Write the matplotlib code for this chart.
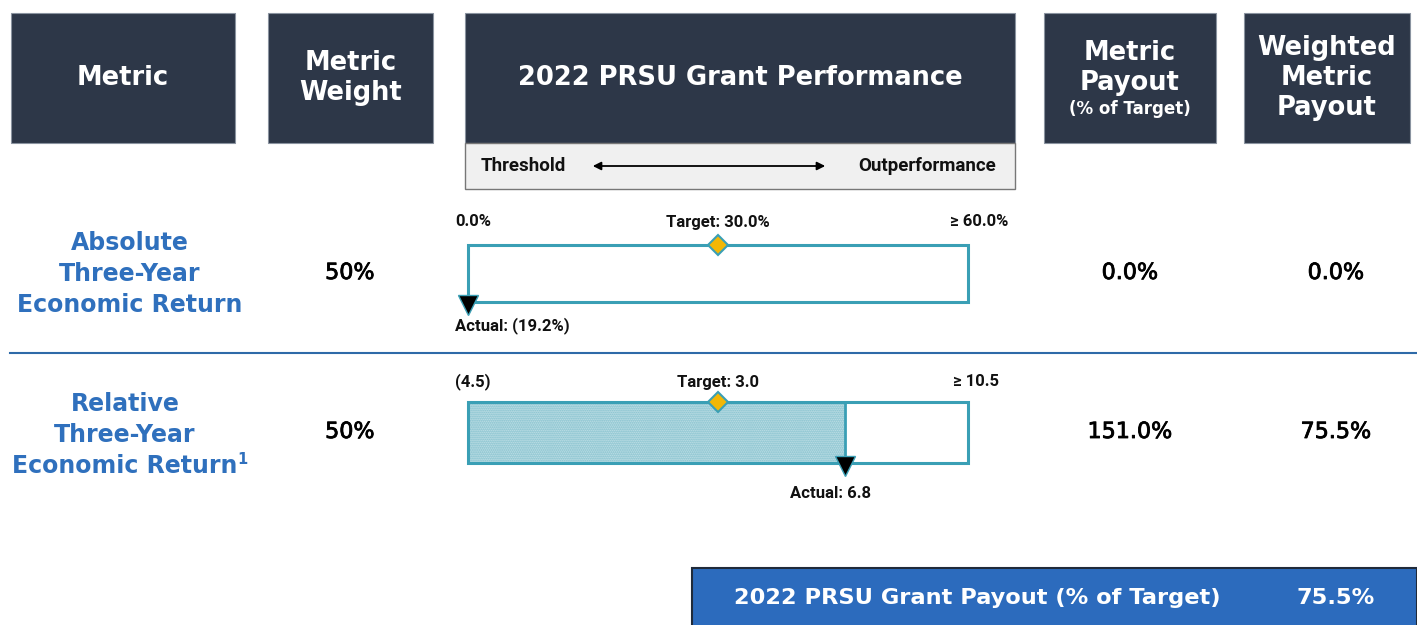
import matplotlib.pyplot as plt
import matplotlib.patheffects as pe
from matplotlib.patches import Rectangle
from matplotlib.transforms import blended_transform_factory, offset_copy

# data
headers = ["Metric", "Metric\nWeight", "2022 PRSU Grant Performance", "Metric\nPayout", "Weighted\nMetric\nPayout"]
metrics = ["Absolute\nThree-Year\nEconomic Return", "Relative\nThree-Year\nEconomic Return"]
weights = ["50%", "50%"]
threshold = [0.0, -4.5]
target = [30.0, 3.0]
outperf = [60.0, 10.5]
actual = [-19.2, 6.8]
low_labels = ["0.0%", "(4.5)"]
target_labels = ["Target: 30.0%", "Target: 3.0"]
high_labels = ["\u2265 60.0%", "\u2265 10.5"]
actual_labels = ["Actual: (19.2%)", "Actual: 6.8"]
payout = ["0.0%", "151.0%"]
weighted = ["0.0%", "75.5%"]
total_label = "2022 PRSU Grant Payout (% of Target)"
total_value = "75.5%"

NAVY = "#2d3748"
BLUE = "#2f70bd"
TEAL = "#3a9fb5"
GOLD = "#f2b705"
NARROW = ["Roboto", "DejaVu Sans"]

W, H = 1417, 625
fig = plt.figure(figsize=(W / 100, H / 100), dpi=100)
ax = fig.add_axes([0, 0, 1, 1])
ax.set_xlim(0, W)
ax.set_ylim(H, 0)
ax.axis("off")

# header boxes
cols = [(11, 235), (268, 433), (465, 1015), (1044, 1216), (1244, 1410)]
for (x0, x1), h in zip(cols, headers):
    ax.add_patch(Rectangle((x0, 13), x1 - x0, 130, facecolor=NAVY, edgecolor="#8a93a0", lw=0.8))
for i in [0, 1, 2, 4]:
    x0, x1 = cols[i]
    ax.text((x0 + x1) / 2, 78, headers[i], ha="center", va="center", color="white",
            fontsize=18.5, fontweight="bold", linespacing=1.2)
x0, x1 = cols[3]
ax.text((x0 + x1) / 2, 68, headers[3], ha="center", va="center", color="white",
        fontsize=18.5, fontweight="bold", linespacing=1.2)
ax.text((x0 + x1) / 2, 109, "(% of Target)", ha="center", va="center", color="white",
        fontsize=12, fontweight="bold")

# threshold / outperformance strip
ax.add_patch(Rectangle((465, 143), 550, 46, facecolor="#f0f0f0", edgecolor="#777777", lw=1))
ax.text(481, 166, "Threshold", ha="left", va="center", fontsize=13.5, family=NARROW,
        fontweight="bold", color="#111111")
ax.text(996, 166, "Outperformance", ha="right", va="center", fontsize=13.5, family=NARROW,
        fontweight="bold", color="#111111")
ax.annotate("", xy=(590, 166), xytext=(828, 166),
            arrowprops=dict(arrowstyle="<|-|>", color="black", lw=1.3, mutation_scale=12))

# divider
ax.plot([10, 1417], [353, 353], color="#2e6aa8", lw=1.5)

row_y = [273, 432]
label_pos = [(130, 274), (125, 435)]
num_fx = [pe.withStroke(linewidth=0.6, foreground="black")]
for i in range(2):
    y = row_y[i]
    lx, ly = label_pos[i]
    ax.text(lx, ly, metrics[i], ha="center", va="center", color=BLUE, fontsize=17,
            fontweight="bold", linespacing=1.38)
    for x, s in [(350, weights[i]), (1130, payout[i]), (1336, weighted[i])]:
        ax.text(x, y, s, ha="center", va="center", fontsize=16, path_effects=num_fx)

ax.text(242, 459, "1", ha="center", va="center", color=BLUE, fontsize=10.5, fontweight="bold")

# bullet bars
bar_rows = [(245, 302), (402, 463)]
label_y = [222, 382]
high_x_pad = [40, 31]
actual_y = [326, 493]
for i in range(2):
    top, bot = bar_rows[i]
    bx = fig.add_axes([468 / W, 1 - bot / H, 500 / W, (bot - top) / H])
    lo, hi = threshold[i], outperf[i]
    bx.set_xlim(lo, hi)
    bx.set_ylim(0, 1)
    bx.axis("off")
    act = min(max(actual[i], lo), hi)
    if act > lo:
        bx.barh(0.5, act - lo, left=lo, height=1, color="#cce6eb", hatch="........",
                edgecolor="#72b7c6", lw=0)
        bx.plot([act, act], [0, 1], color=TEAL, lw=2)
    bx.add_patch(Rectangle((lo, 0), hi - lo, 1, facecolor="none", edgecolor=TEAL, lw=2.2,
                           clip_on=False))
    bx.plot(target[i], 1, marker="D", markersize=10, color=GOLD, markeredgecolor=TEAL,
            markeredgewidth=1.5, clip_on=False, zorder=5)
    bx.plot(act, -0.05, marker="v", markersize=15, color="black", markeredgecolor=TEAL,
            markeredgewidth=1, clip_on=False, zorder=5)

    tr = blended_transform_factory(bx.transData, ax.transData)
    kw = dict(va="center", fontsize=12, family=NARROW, fontweight="bold", color="#111111")
    bx.text(lo, label_y[i], low_labels[i], ha="left",
            transform=offset_copy(tr, fig, x=-13, units="dots"), **kw)
    bx.text(target[i], label_y[i], target_labels[i], ha="center", transform=tr, **kw)
    bx.text(hi, label_y[i], high_labels[i], ha="right",
            transform=offset_copy(tr, fig, x=high_x_pad[i], units="dots"), **kw)
    if i == 0:
        bx.text(act, actual_y[i], actual_labels[i], ha="left",
                transform=offset_copy(tr, fig, x=-13, units="dots"), **kw)
    else:
        bx.text(act, actual_y[i], actual_labels[i], ha="center",
                transform=offset_copy(tr, fig, x=-14, units="dots"), **kw)

# total box
ax.add_patch(Rectangle((692, 568), 725, 60, facecolor="#2c6bbd", edgecolor="#1f2a3a", lw=1.5))
ax.text(977, 598, total_label, ha="center", va="center", color="white", fontsize=16.2,
        fontweight="bold")
ax.text(1336, 598, total_value, ha="center", va="center", color="white", fontsize=16.2,
        fontweight="bold")

fig.savefig("out.png", dpi=100)
